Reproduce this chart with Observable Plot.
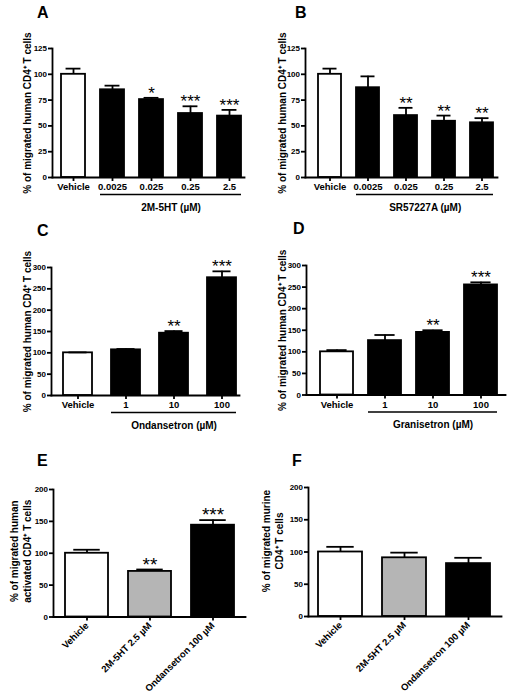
<!DOCTYPE html>
<html><head><meta charset="utf-8">
<script src="https://cdn.jsdelivr.net/npm/d3@7"></script>
<script src="https://cdn.jsdelivr.net/npm/@observablehq/plot@0.6"></script>
<style>
body{margin:0;background:#fff;}
#fig{position:relative;width:510px;height:700px;font-family:"Liberation Sans",Arial,sans-serif;overflow:hidden;}
.panel{position:absolute;}
.letter{position:absolute;font-weight:bold;font-size:16px;line-height:1;}
</style></head><body><div id="fig"></div>
<script>
// ---- data ----
const catsAB = ["Vehicle","0.0025","0.025","0.25","2.5"];
const meanA = [100,85,75.5,62,59.5];
const semA = [5.5,4,1.7,7,6];
const starsA = ["","","*","***","***"];
const meanB = [100,87,60,54.5,53];
const semB = [5.5,11,7.5,5.5,4.5];
const starsB = ["","","**","**","**"];
const catsCD = ["Vehicle","1","10","100"];
const meanC = [100,107,146,276];
const semC = [1,2,5,15];
const starsC = ["","","**","***"];
const meanD = [100,126,145,255];
const semD = [4,13,5,6];
const starsD = ["","","**","***"];
const catsEF = ["Vehicle","2M-5HT 2.5 µM","Ondansetron 100 µM"];
const meanE = [100,71.5,144];
const semE = [5.5,3,8];
const starsE = ["","**","***"];
const meanF = [100,91,82];
const semF = [8,8,9];
const starsF = ["","",""];
const ticksAB = [0,25,50,75,100,125];
const ticksCD = [0,50,100,150,200,250,300];
const ticksEF = [0,50,100,150,200];
const titleHuman = "% of migrated human CD4⁺ T cells";
const titleE = "% of migrated human\nactivated CD4⁺ T cells";
const titleF = "% of migrated murine\nCD4⁺ T cells";

// ---- layout / style ----
const panels = [
  {letter:"A", lx:37, ly:5, left:0, top:0, w:255, h:220, mL:52, mR:11, mT:48, mB:43, xr:[53.5,248.5], pad:0.385,
   cats:catsAB, mean:meanA, sem:semA, stars:starsA, ticks:ticksAB, title:titleHuman, labelOff:31, group:"2M-5HT (µM)", starSize:17},
  {letter:"B", lx:295, ly:5, left:255, top:0, w:255, h:220, mL:50, mR:13, mT:48, mB:43, xr:[54.5,247], pad:0.385,
   cats:catsAB, mean:meanB, sem:semB, stars:starsB, ticks:ticksAB, title:titleHuman, labelOff:29, group:"SR57227A (µM)", starSize:17},
  {letter:"C", lx:37, ly:223, left:0, top:215, w:255, h:225, mL:51, mR:16, mT:52, mB:45, xr:[53.5,245.5], pad:0.4,
   cats:catsCD, mean:meanC, sem:semC, stars:starsC, ticks:ticksCD, title:titleHuman, labelOff:30, group:"Ondansetron (µM)", starSize:17},
  {letter:"D", lx:293, ly:221, left:255, top:215, w:255, h:225, mL:51, mR:5, mT:50, mB:45.5, xr:[55.5,251], pad:0.31,
   cats:catsCD, mean:meanD, sem:semD, stars:starsD, ticks:ticksCD, title:titleHuman, labelOff:30, group:"Granisetron (µM)", starSize:17},
  {letter:"E", lx:37, ly:453, left:0, top:445, w:255, h:255, mL:53, mR:10, mT:44, mB:83.5, xr:[54.25,244.75], pad:0.315,
   cats:catsEF, mean:meanE, sem:semE, stars:starsE, ticks:ticksEF, title:titleE, labelOff:45, titleShift:-2, rotate:true, starSize:19},
  {letter:"F", lx:292, ly:453, left:255, top:445, w:255, h:255, mL:53, mR:9, mT:42, mB:84, xr:[52.5,245.3], pad:0.32,
   cats:catsEF, mean:meanF, sem:semF, stars:starsF, ticks:ticksEF, title:titleF, labelOff:48, titleShift:-11, rotate:true, starSize:19}
];

const fig = document.getElementById("fig");
const fillOf = c => c === "Vehicle" ? "white" : c.startsWith("2M-5HT") ? "#b5b5b5" : "black";
const SW = 1.8;

for (const p of panels) {
  const data = p.cats.map((c,i) => ({cat:c, mean:p.mean[i], sem:p.sem[i], star:p.stars[i]}));
  const n = p.cats.length;
  const step = (p.xr[1]-p.xr[0])/n;
  const bw = step*(1-p.pad);
  const marks = [
    Plot.barY(data, {x:"cat", y:"mean", fill:d => fillOf(d.cat), stroke:"black", strokeWidth:SW}),
    Plot.ruleX(data, {x:"cat", y1:"mean", y2:d => d.mean + d.sem, stroke:"black", strokeWidth:SW}),
    Plot.tickY(data, {x:"cat", y:d => d.mean + d.sem, stroke:"black", strokeWidth:SW, insetLeft:bw*0.19, insetRight:bw*0.19}),
    Plot.text(data.filter(d => d.star), {x:"cat", y:d => d.mean + d.sem, text:"star", lineAnchor:"bottom", dy:1, fontSize:p.starSize}),
    Plot.axisY({ticks:p.ticks, tickSize:4, tickPadding:1.5, fontSize:8, fontWeight:"bold", label:null, strokeWidth:SW}),
    Plot.axisX(p.rotate
      ? {tickSize:4, tickPadding:3, fontSize:9.5, fontWeight:"bold", label:null, tickRotate:-45, strokeWidth:SW}
      : {tickSize:4, tickPadding:2, fontSize:9.5, fontWeight:"bold", label:null, strokeWidth:SW}),
    Plot.frame({anchor:"left", strokeWidth:SW}),
    Plot.frame({anchor:"bottom", strokeWidth:SW}),
    Plot.text([p.title], {frameAnchor:"left", rotate:-90, dx:-p.labelOff, dy:p.titleShift || 0, lineAnchor:"top", textAnchor:"middle", fontSize:10, fontWeight:"bold", lineHeight:1.32})
  ];
  if (p.group) {
    const treated = p.cats.slice(1);
    const midIdx = Math.floor(n/2);
    const even = (treated.length % 2) === 0;
    marks.push(Plot.ruleY([{a:treated[0], b:treated[treated.length-1]}], {x1:"a", x2:"b", y:() => 0, dy:17, stroke:"black", strokeWidth:1.6}));
    marks.push(Plot.text([{c:p.cats[midIdx], t:p.group}], {x:"c", y:() => 0, text:"t", dy:30, dx: even ? step/2 : 0, lineAnchor:"middle", fontSize:10, fontWeight:"bold"}));
  }
  const svg = Plot.plot({
    width:p.w, height:p.h,
    marginLeft:p.mL, marginRight:p.mR, marginTop:p.mT, marginBottom:p.mB,
    style:{fontFamily:"'Liberation Sans', Arial, sans-serif", background:"white", color:"black", overflow:"visible"},
    x:{domain:p.cats, range:p.xr, paddingInner:p.pad, paddingOuter:p.pad/2},
    y:{domain:[0, p.ticks[p.ticks.length-1]]},
    color:{type:"identity"},
    marks
  });
  svg.classList.add("panel");
  svg.style.left = p.left + "px";
  svg.style.top = p.top + "px";
  fig.appendChild(svg);
  const L = document.createElement("div");
  L.className = "letter";
  L.textContent = p.letter;
  L.style.left = p.lx + "px";
  L.style.top = p.ly + "px";
  fig.appendChild(L);
}
</script></body></html>
